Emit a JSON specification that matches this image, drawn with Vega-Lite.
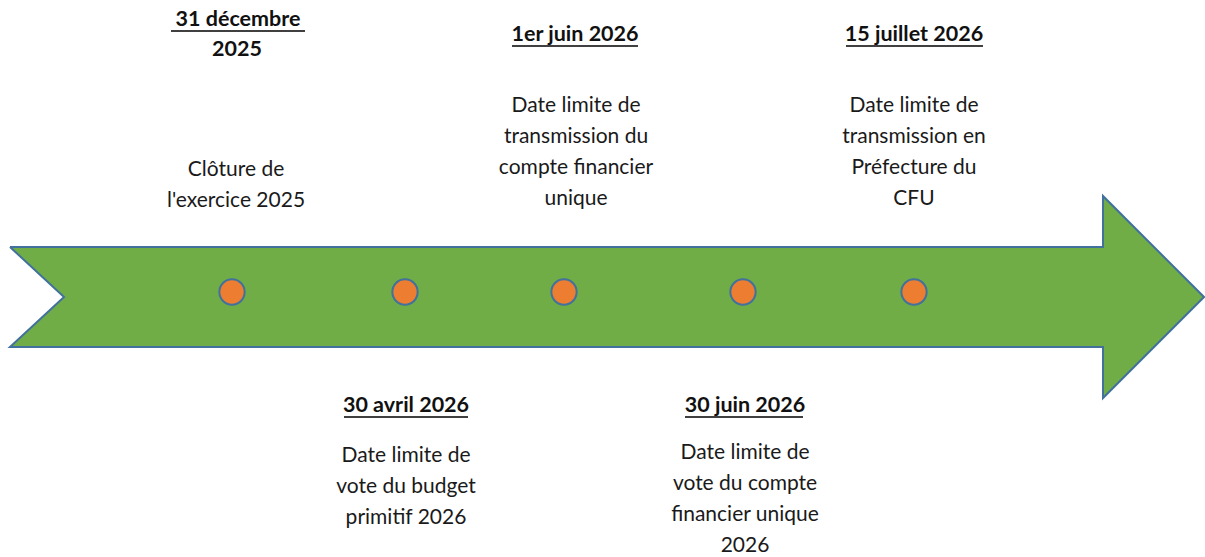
{
  "$schema": "https://vega.github.io/schema/vega-lite/v6.json",
  "width": 1205,
  "height": 557,
  "autosize": {"type": "none"},
  "padding": 0,
  "background": "white",
  "config": {"view": {"stroke": null}},
  "datasets": {
    "arrow": [
      {"o": 1, "x": 10, "y": 247},
      {"o": 2, "x": 1103, "y": 247},
      {"o": 3, "x": 1103, "y": 196},
      {"o": 4, "x": 1204, "y": 297},
      {"o": 5, "x": 1103, "y": 398},
      {"o": 6, "x": 1103, "y": 347},
      {"o": 7, "x": 10, "y": 347},
      {"o": 8, "x": 64, "y": 297},
      {"o": 9, "x": 10, "y": 247}
    ],
    "events": [
      {"x": 232, "y": 292},
      {"x": 405, "y": 292},
      {"x": 564, "y": 292},
      {"x": 743, "y": 292},
      {"x": 914, "y": 292}
    ],
    "titles": [
      {"x": 238, "y": 20, "label": "31 décembre"},
      {"x": 237, "y": 50, "label": "2025"},
      {"x": 575, "y": 35, "label": "1er juin 2026"},
      {"x": 914, "y": 35, "label": "15 juillet 2026"},
      {"x": 406, "y": 406, "label": "30 avril 2026"},
      {"x": 745, "y": 406, "label": "30 juin 2026"}
    ],
    "underlines": [
      {"x": 171, "x2": 305, "y": 31},
      {"x": 512, "x2": 638, "y": 46},
      {"x": 846, "x2": 983, "y": 46},
      {"x": 344, "x2": 468, "y": 417},
      {"x": 685, "x2": 803, "y": 417}
    ],
    "bodies": [
      {"x": 236, "y": 170, "label": "Clôture de\nl'exercice 2025"},
      {"x": 576, "y": 106, "label": "Date limite de\ntransmission du\ncompte financier\nunique"},
      {"x": 914, "y": 106, "label": "Date limite de\ntransmission en\nPréfecture du\nCFU"},
      {"x": 406, "y": 456, "label": "Date limite de\nvote du budget\nprimitif 2026"},
      {"x": 745, "y": 453, "label": "Date limite de\nvote du compte\nfinancier unique\n2026"}
    ]
  },
  "layer": [
    {
      "data": {"name": "arrow"},
      "mark": {"type": "line", "fill": "#70AD47", "stroke": "#41719C", "strokeWidth": 2, "strokeJoin": "miter"},
      "encoding": {
        "x": {"field": "x", "type": "quantitative", "scale": {"domain": [0, 1205], "nice": false, "zero": false}, "axis": null},
        "y": {"field": "y", "type": "quantitative", "scale": {"domain": [0, 557], "nice": false, "zero": false, "reverse": true}, "axis": null},
        "order": {"field": "o", "type": "quantitative"}
      }
    },
    {
      "data": {"name": "events"},
      "mark": {"type": "point", "shape": "circle", "filled": true, "fill": "#ED7D31", "stroke": "#41719C", "strokeWidth": 2, "size": 640, "opacity": 1},
      "encoding": {
        "x": {"field": "x", "type": "quantitative"},
        "y": {"field": "y", "type": "quantitative"}
      }
    },
    {
      "data": {"name": "underlines"},
      "mark": {"type": "rule", "stroke": "#000000", "strokeWidth": 1.5},
      "encoding": {
        "x": {"field": "x", "type": "quantitative"},
        "x2": {"field": "x2"},
        "y": {"field": "y", "type": "quantitative"}
      }
    },
    {
      "data": {"name": "titles"},
      "mark": {"type": "text", "font": "Lato", "fontSize": 21.5, "fontWeight": "bold", "color": "#111111", "align": "center", "baseline": "middle"},
      "encoding": {
        "x": {"field": "x", "type": "quantitative"},
        "y": {"field": "y", "type": "quantitative"},
        "text": {"field": "label"}
      }
    },
    {
      "data": {"name": "bodies"},
      "mark": {"type": "text", "font": "Lato", "fontSize": 21, "color": "#1a1a1a", "align": "center", "baseline": "middle", "lineBreak": "\n", "lineHeight": 31},
      "encoding": {
        "x": {"field": "x", "type": "quantitative"},
        "y": {"field": "y", "type": "quantitative"},
        "text": {"field": "label"}
      }
    }
  ]
}
